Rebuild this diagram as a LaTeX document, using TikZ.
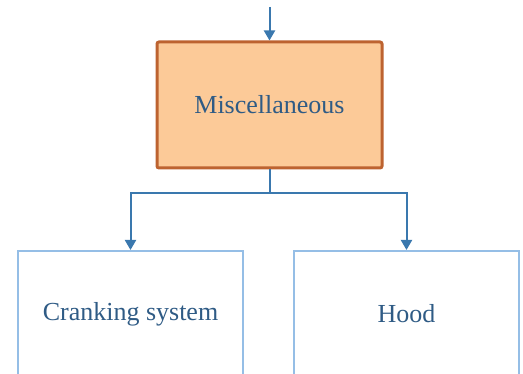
\documentclass[tikz,border=0pt]{standalone}
\usepackage{fontspec}
\setmainfont{Liberation Serif}
\usetikzlibrary{arrows.meta}
\definecolor{linkblue}{HTML}{3A78AE}
\definecolor{boxedge}{HTML}{95BEE6}
\definecolor{txtblue}{HTML}{2F5B85}
\definecolor{miscfill}{HTML}{FCCA98}
\definecolor{miscedge}{HTML}{BD6330}
\begin{document}
\begin{tikzpicture}[x=1pt,y=-1pt,
  label/.style={font=\fontsize{26}{30}\selectfont, text=txtblue},
  mainbox/.style={draw=miscedge, fill=miscfill, line width=3pt, rounded corners=2pt,
    minimum width=225pt, minimum height=126pt, inner sep=0pt},
  subbox/.style={draw=boxedge, line width=1.6pt, minimum width=225pt,
    minimum height=160pt, inner sep=0pt, anchor=north},
  link/.style={draw=linkblue, line width=2pt, -{Triangle[length=10pt,width=11pt]}}]
\useasboundingbox (0,0) rectangle (523,374);
\node[mainbox] (misc) at (269.5,105) {};
\node[label] (misctext) at (misc.center) {Miscellaneous};
\coordinate (top) at (269.5,7);
\node[subbox] (crank) at (130.5,250) {};
\node[subbox] (hood) at (406.5,250) {};
\node[label] (cranktext) at (130.5,314) {Cranking system};
\node[label] (hoodtext) at (406.5,314) {Hood};
\coordinate (split) at (269.5,193);
\draw[link] (top) -- (misc.north);
\draw[draw=linkblue, line width=2pt] (misc.south) -- (split);
\draw[link] (split) -| (crank.north);
\draw[link] (split) -| (hood.north);
\end{tikzpicture}
\end{document}
